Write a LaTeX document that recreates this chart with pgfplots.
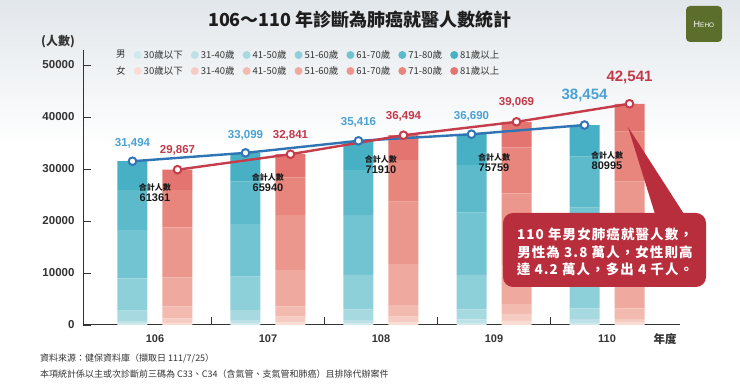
\documentclass[border=0pt]{standalone}
\usepackage{pgfplots}
\pgfplotsset{compat=1.18}
\usepackage{pgfplotstable}
\usepackage{fontspec}
\setmainfont{Liberation Sans}
\newfontfamily\cjk{Noto Sans CJK TC}
\newfontfamily\cjkls{Noto Sans CJK TC}[LetterSpace=8]

\definecolor{m1}{HTML}{CFE9EC}
\definecolor{m2}{HTML}{BCE2E7}
\definecolor{m3}{HTML}{A6D9E0}
\definecolor{m4}{HTML}{8ED0DA}
\definecolor{m5}{HTML}{72C4D2}
\definecolor{m6}{HTML}{5CBACB}
\definecolor{m7}{HTML}{47B0C4}
\definecolor{f1}{HTML}{F9DCD3}
\definecolor{f2}{HTML}{F6CCC2}
\definecolor{f3}{HTML}{F3BBB0}
\definecolor{f4}{HTML}{F0A99E}
\definecolor{f5}{HTML}{EC978D}
\definecolor{f6}{HTML}{E8867E}
\definecolor{f7}{HTML}{E47470}
\definecolor{mline}{HTML}{2F75B5}
\definecolor{fline}{HTML}{C53D4B}
\definecolor{mlab}{HTML}{4AA2D4}
\definecolor{flab}{HTML}{C4394A}
\definecolor{callout}{HTML}{B92E3D}
\definecolor{heho}{HTML}{5B6E2B}
\definecolor{txt}{HTML}{333333}

\pgfplotstableread{
x m1 m2 m3 m4 m5 m6 m7
0 250 520 1980 6230 9290 7690 5534
1 310 650 1920 6410 10130 8140 5539
2 320 640 2050 6610 11530 8660 5606
3 390 700 1920 6610 11980 9170 5920
4 400 750 2060 6890 12460 9810 6084
}\male

\pgfplotstableread{
x f1 f2 f3 f4 f5 f6 f7
0 400 890 2230 5650 9620 7170 3907
1 500 1100 1920 7060 10570 7180 4511
2 500 1100 2250 7880 11990 8010 4764
3 800 1315 1925 7500 13780 8850 4899
4 450 700 2060 9000 15350 9610 5371
}\female

\pgfplotstableread{
x mtot ftot all ly
0 31494 29867 61361 25385
1 33099 32841 65940 27308
2 35416 36494 71910 30770
3 36690 39069 75759 31150
4 38454 42541 80995 31540
}\totals

\pgfplotsset{base/.style={
  at={(83pt,63pt)}, anchor=south west, scale only axis,
  width=597pt, height=275pt,
  xmin=-0.637, xmax=4.646, ymin=0, ymax=52885, clip=false},
  dotlegend/.style={
  legend columns=-1,
  legend image code/.code={\fill[##1, draw=none] (3.5pt,0pt) circle (4pt);},
  legend style={anchor=west, draw=none, fill=none, inner sep=0pt,
     font=\cjk\fontsize{9.5}{11}\selectfont, text=txt,
     /tikz/every even column/.append style={column sep=6pt}}}
}

\begin{document}
\begin{tikzpicture}[x=1pt,y=1pt]
\useasboundingbox (0,0) rectangle (740,388);
\shade[top color={rgb,255:red,226;green,231;blue,235}, bottom color=white] (0,240) rectangle (740,388);

% title
\node[text={rgb,255:red,30;green,30;blue,30}, font=\cjk\bfseries\fontsize{18}{20}\selectfont] at (360,368) {106～110 年診斷為肺癌就醫人數統計};

% logo
\fill[heho, rounded corners=4pt] (686,346) rectangle (722,382);
\node[white, inner sep=0pt] at (704,364) {\fontsize{9}{10}\selectfont H\fontsize{6.5}{8}\selectfont EHO};

% y label
\node[text=txt, font=\cjk\bfseries\fontsize{12}{13}\selectfont] at (58,346) {(人數)};

% male bars + axis
\begin{axis}[base, ybar stacked, bar width=30pt, bar shift=-22.5pt,
  axis x line*=bottom, axis y line*=left,
  axis line style={txt, line width=1pt},
  xtick={0.5,1.5,2.5,3.5}, xticklabels={{},{},{},{}},
  extra x ticks={0,1,2,3,4}, extra x tick labels={106,107,108,109,110},
  extra x tick style={major tick length=0pt, tick label style={font=\fontsize{11}{12}\selectfont\bfseries, text=txt, yshift=-6pt}},
  ytick={0,10000,20000,30000,40000,50000}, scaled y ticks=false,
  yticklabel style={font=\fontsize{11.5}{12}\selectfont\bfseries, text=txt, xshift=-5pt,
    /pgf/number format/1000 sep={}, /pgf/number format/assume math mode=true},
  major tick length=8pt, tick align=inside,
  tick style={txt, line width=0.8pt},
  dotlegend, legend style={at={(0.052,0.9818)}},
]
\addlegendimage{empty legend}\addlegendentry{男}
\addplot[fill=m1, draw=none] table[x=x,y=m1]{\male};\addlegendentry{30歲以下}
\addplot[fill=m2, draw=none] table[x=x,y=m2]{\male};\addlegendentry{31-40歲}
\addplot[fill=m3, draw=none] table[x=x,y=m3]{\male};\addlegendentry{41-50歲}
\addplot[fill=m4, draw=none] table[x=x,y=m4]{\male};\addlegendentry{51-60歲}
\addplot[fill=m5, draw=none] table[x=x,y=m5]{\male};\addlegendentry{61-70歲}
\addplot[fill=m6, draw=none] table[x=x,y=m6]{\male};\addlegendentry{71-80歲}
\addplot[fill=m7, draw=none] table[x=x,y=m7]{\male};\addlegendentry{81歲以上}
\end{axis}

% female bars
\begin{axis}[base, hide axis, ybar stacked, bar width=30pt, bar shift=22.5pt,
  dotlegend, legend style={at={(0.052,0.9236)}}]
\addlegendimage{empty legend}\addlegendentry{女}
\addplot[fill=f1, draw=none] table[x=x,y=f1]{\female};\addlegendentry{30歲以下}
\addplot[fill=f2, draw=none] table[x=x,y=f2]{\female};\addlegendentry{31-40歲}
\addplot[fill=f3, draw=none] table[x=x,y=f3]{\female};\addlegendentry{41-50歲}
\addplot[fill=f4, draw=none] table[x=x,y=f4]{\female};\addlegendentry{51-60歲}
\addplot[fill=f5, draw=none] table[x=x,y=f5]{\female};\addlegendentry{61-70歲}
\addplot[fill=f6, draw=none] table[x=x,y=f6]{\female};\addlegendentry{71-80歲}
\addplot[fill=f7, draw=none] table[x=x,y=f7]{\female};\addlegendentry{81歲以上}
\end{axis}

% lines and labels
\begin{axis}[base, hide axis]
\addplot[mline, line width=2.4pt, mark=*, mark size=3.8pt,
  mark options={fill=white, draw=mline, line width=2pt}]
  table[x expr=\thisrow{x}-0.1991, y=mtot]{\totals};
\addplot[fline, line width=2.4pt, mark=*, mark size=3.8pt,
  mark options={fill=white, draw=fline, line width=2pt}]
  table[x expr=\thisrow{x}+0.1991, y=ftot]{\totals};
% value labels
\addplot[draw=none, mark=none, point meta=y, skip coords between index={4}{5},
  nodes near coords={\pgfmathprintnumber[1000 sep={,},assume math mode=true]{\pgfplotspointmeta}},
  every node near coord/.append style={font=\fontsize{11.5}{12}\selectfont\bfseries, text=mlab, anchor=center, yshift=18pt}]
  table[x expr=\thisrow{x}-0.1991, y=mtot]{\totals};
\addplot[draw=none, mark=none, point meta=y, skip coords between index={4}{5},
  nodes near coords={\pgfmathprintnumber[1000 sep={,},assume math mode=true]{\pgfplotspointmeta}},
  every node near coord/.append style={font=\fontsize{11.5}{12}\selectfont\bfseries, text=flab, anchor=center, yshift=19pt}]
  table[x expr=\thisrow{x}+0.1991, y=ftot]{\totals};
\addplot[draw=none, mark=none, point meta=y, skip coords between index={0}{4},
  nodes near coords={\pgfmathprintnumber[1000 sep={,},assume math mode=true]{\pgfplotspointmeta}},
  every node near coord/.append style={font=\fontsize{15}{16}\selectfont\bfseries, text=mlab, anchor=center, yshift=30pt}]
  table[x expr=\thisrow{x}-0.1991, y=mtot]{\totals};
\addplot[draw=none, mark=none, point meta=y, skip coords between index={0}{4},
  nodes near coords={\pgfmathprintnumber[1000 sep={,},assume math mode=true]{\pgfplotspointmeta}},
  every node near coord/.append style={font=\fontsize{15}{16}\selectfont\bfseries, text=flab, anchor=center, yshift=26pt}]
  table[x expr=\thisrow{x}+0.1991, y=ftot]{\totals};
% totals
\addplot[draw=none, mark=none, point meta=explicit,
  nodes near coords={{\cjk\bfseries\fontsize{8}{9}\selectfont 合計人數}\\[-1pt]{\fontsize{11}{13}\selectfont\bfseries\pgfmathprintnumber[1000 sep={},assume math mode=true]{\pgfplotspointmeta}}},
  every node near coord/.append style={align=center, anchor=center, text={rgb,255:red,25;green,25;blue,25}}]
  table[x=x, y=ly, meta=all]{\totals};
\end{axis}

% callout
\fill[callout] (655,174) -- (628,261) -- (684,174) -- cycle;
\fill[callout, rounded corners=10pt] (503,101) rectangle (706,175);
\node[white, font=\cjkls\bfseries\fontsize{13.5}{15}\selectfont] at (605,154) {110 年男女肺癌就醫人數，};
\node[white, font=\cjkls\bfseries\fontsize{13.5}{15}\selectfont] at (605,136) {男性為 3.8 萬人，女性則高};
\node[white, font=\cjkls\bfseries\fontsize{13.5}{15}\selectfont] at (605,119) {達 4.2 萬人，多出 4 千人。};

% x axis title
\node[text=txt, font=\cjk\bfseries\fontsize{11.5}{13}\selectfont] at (665,49) {年度};

% footer
\node[anchor=west, text=txt, font=\cjk\fontsize{9}{11}\selectfont, inner sep=0pt] at (40,30) {資料來源：健保資料庫（擷取日 111/7/25）};
\node[anchor=west, text=txt, font=\cjk\fontsize{9}{11}\selectfont, inner sep=0pt] at (40,14) {本項統計係以主或次診斷前三碼為 C33、C34（含氣管、支氣管和肺癌）且排除代辦案件};
\end{tikzpicture}
\end{document}
